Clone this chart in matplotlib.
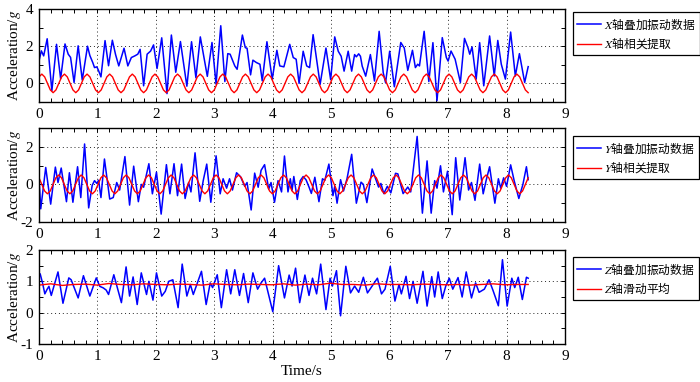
import numpy as np
import matplotlib.pyplot as plt
from matplotlib.ticker import MultipleLocator

plt.rcParams['font.family'] = ['Liberation Serif', 'Noto Sans CJK SC']
plt.rcParams['mathtext.fontset'] = 'stix'
plt.rcParams['axes.unicode_minus'] = False

# X axis: superimposed vibration data (time s, acceleration g)
x_blue = [(0.00, 1.21), (0.04, 1.75), (0.08, 1.48), (0.14, 2.40), (0.22, -0.40), (0.30, 2.10),
          (0.37, 0.25), (0.445, 2.12), (0.50, 1.57), (0.54, 1.40), (0.60, 0.05), (0.67, 2.02),
          (0.74, 0.18), (0.83, 2.00), (0.87, 1.50), (0.92, 1.12), (0.95, 0.85), (0.99, 0.89),
          (1.02, 0.68), (1.06, 0.35), (1.13, 2.30), (1.19, 0.95), (1.255, 2.32), (1.31, 1.55),
          (1.365, 0.94), (1.455, 1.89), (1.52, 0.94), (1.58, 1.39), (1.64, 1.48), (1.69, 1.57),
          (1.73, 1.83), (1.79, -0.13), (1.85, 1.57), (1.91, 1.74), (1.96, 2.07), (2.02, 0.80),
          (2.10, 2.45), (2.19, -0.55), (2.265, 2.60), (2.34, 0.60), (2.42, 2.25), (2.53, -0.15),
          (2.61, 2.24), (2.685, 0.30), (2.76, 2.50), (2.88, 0.38), (2.96, 2.20), (3.03, -0.04),
          (3.11, 3.10), (3.18, 0.10), (3.23, 1.60), (3.27, 1.57), (3.35, 0.94), (3.39, 0.76),
          (3.48, 2.60), (3.53, 1.92), (3.56, 1.89), (3.62, 0.46), (3.66, 1.25), (3.72, 1.12),
          (3.78, 1.03), (3.82, 0.14), (3.90, 2.24), (3.99, 0.23), (4.07, 1.78), (4.12, 0.94),
          (4.19, 0.89), (4.29, 2.10), (4.35, 1.39), (4.40, 1.30), (4.45, 0.00), (4.52, 1.73),
          (4.58, 0.94), (4.63, 0.85), (4.69, 2.62), (4.81, -0.05), (4.91, 1.90), (4.99, 0.20),
          (5.06, 2.50), (5.12, 1.73), (5.17, 1.46), (5.22, 0.66), (5.29, 1.73), (5.35, 0.66),
          (5.40, 1.55), (5.43, 1.43), (5.47, 1.59), (5.50, 1.46), (5.53, 0.93), (5.59, 0.39),
          (5.67, 1.55), (5.74, 0.13), (5.82, 2.80), (5.89, 0.57), (5.93, 0.04), (6.00, 1.73),
          (6.08, -0.18), (6.19, 2.20), (6.25, 1.90), (6.31, 0.70), (6.39, 1.78), (6.44, 0.85),
          (6.48, 1.03), (6.51, 0.94), (6.59, 2.80), (6.67, 0.10), (6.74, 2.19), (6.81, -0.93),
          (6.90, 2.46), (6.97, 1.39), (7.00, 1.20), (7.05, 1.74), (7.12, 1.30), (7.21, 0.05),
          (7.28, 2.42), (7.34, 1.92), (7.37, 1.57), (7.41, 1.96), (7.48, 0.23), (7.54, 2.19),
          (7.61, -0.13), (7.71, 2.55), (7.79, 0.40), (7.85, 2.31), (7.91, 1.03), (7.98, 0.23),
          (8.07, 2.76), (8.15, 0.40), (8.22, 1.60), (8.31, 0.05), (8.37, 0.90)]

# X axis correlation extraction, equally spaced samples over 0..8.37 s
red_x = [0.35, 0.50, 0.35, 0.00, -0.35, -0.50, -0.35, 0.00,
         0.35, 0.50, 0.35, 0.00, -0.35, -0.50, -0.35, 0.00,
         0.35, 0.50, 0.35, 0.00, -0.35, -0.50, -0.35, 0.00,
         0.35, 0.50, 0.35, 0.00, -0.35, -0.50, -0.35, 0.00,
         0.35, 0.50, 0.35, 0.00, -0.35, -0.50, -0.35, 0.00,
         0.35, 0.50, 0.35, 0.00, -0.35, -0.50, -0.35, 0.00,
         0.35, 0.50, 0.35, 0.00, -0.35, -0.50, -0.35, 0.00,
         0.35, 0.50, 0.35, 0.00, -0.35, -0.50, -0.35, 0.00,
         0.35, 0.50, 0.35, 0.00, -0.35, -0.50, -0.35, 0.00,
         0.35, 0.50, 0.35, 0.00, -0.35, -0.50, -0.35, 0.00,
         0.35, 0.50, 0.35, 0.00, -0.35, -0.50, -0.35, 0.00,
         0.35, 0.50, 0.35, 0.00, -0.35, -0.50, -0.35, 0.00,
         0.35, 0.50, 0.35, 0.00, -0.35, -0.50, -0.35, 0.00,
         0.35, 0.50, 0.35, 0.00, -0.35, -0.50, -0.35, 0.00,
         0.35, 0.50, 0.35, 0.00, -0.35, -0.50, -0.35, 0.00,
         0.35, 0.50, 0.35, 0.00, -0.35, -0.50, -0.35, 0.00,
         0.35, 0.50, 0.35, 0.00, -0.35, -0.50, -0.35, 0.00,
         0.35, 0.50, 0.35, 0.00, -0.35, -0.50, -0.35, 0.00,
         0.35, 0.50, 0.35, 0.00, -0.35, -0.50, -0.35, 0.00,
         0.35, 0.50, 0.35, 0.00, -0.35, -0.50, -0.35, 0.00,
         0.35, 0.50, 0.35, 0.00, -0.35, -0.50, -0.35, 0.00,
         0.35, 0.50, 0.35, 0.00, -0.35, -0.50]

# Y axis: superimposed vibration data
y_blue = [(0.00, 0.35), (0.03, -1.30), (0.115, 0.90), (0.20, -1.05), (0.28, 0.92), (0.325, 0.10),
          (0.38, 0.87), (0.47, -0.92), (0.52, 0.62), (0.58, -0.95), (0.66, 0.94), (0.715, -0.70),
          (0.78, 2.15), (0.85, -1.25), (0.91, -0.05), (0.95, 0.20), (0.99, 0.05), (1.02, 0.22),
          (1.06, -0.70), (1.12, 1.35), (1.21, -0.78), (1.27, -0.70), (1.33, 0.10), (1.38, -0.30),
          (1.47, 1.48), (1.55, -1.10), (1.62, 0.97), (1.70, -0.92), (1.75, 0.00), (1.79, -0.15),
          (1.88, 1.10), (1.94, -0.50), (2.01, 0.65), (2.09, -1.58), (2.18, 1.05), (2.24, -0.50),
          (2.31, 1.10), (2.37, -0.60), (2.44, 1.08), (2.50, -0.75), (2.56, 0.10), (2.60, -0.40),
          (2.67, 1.68), (2.75, -0.90), (2.81, 0.20), (2.87, 1.08), (2.94, -0.95), (3.03, 1.52),
          (3.10, -0.50), (3.15, 0.30), (3.21, -0.20), (3.26, 0.30), (3.31, -0.30), (3.38, 0.62),
          (3.45, 0.40), (3.52, -0.10), (3.56, 0.10), (3.63, -1.36), (3.69, 0.60), (3.75, -0.15),
          (3.80, 0.75), (3.86, 1.05), (3.93, -0.25), (3.97, 0.10), (4.03, -0.95), (4.09, 0.20),
          (4.15, -0.40), (4.20, 1.51), (4.26, -0.40), (4.30, 0.30), (4.33, -0.31), (4.36, 0.42),
          (4.42, -0.80), (4.47, 0.20), (4.52, 0.42), (4.57, 0.24), (4.62, -0.14), (4.66, -0.48),
          (4.72, 0.38), (4.79, -0.92), (4.85, 0.30), (4.89, 0.21), (4.96, 1.08), (5.03, -0.60),
          (5.06, -0.10), (5.10, -1.00), (5.16, 0.25), (5.21, -0.35), (5.27, 0.30), (5.35, 1.60),
          (5.43, -1.00), (5.51, 0.12), (5.55, 0.00), (5.61, -0.97), (5.70, 0.82), (5.77, 0.21),
          (5.81, -0.14), (5.85, 0.05), (5.90, -0.49), (5.96, -0.10), (6.02, -0.45), (6.10, 0.59),
          (6.14, 0.56), (6.23, -0.49), (6.31, -0.14), (6.36, -0.40), (6.47, 2.55), (6.56, -1.53),
          (6.64, 1.25), (6.71, -1.53), (6.77, 0.20), (6.81, -0.20), (6.87, 0.99), (6.92, -0.40),
          (6.99, 0.70), (7.07, -1.61), (7.13, 1.42), (7.20, -0.83), (7.29, 1.42), (7.35, -0.30),
          (7.40, 0.10), (7.46, -0.85), (7.54, 1.08), (7.60, -0.50), (7.65, 0.20), (7.71, 0.94),
          (7.80, -1.00), (7.86, 0.30), (7.90, -0.20), (7.95, 0.35), (8.00, -0.10), (8.07, 1.04),
          (8.13, 0.20), (8.21, -0.75), (8.28, 0.00), (8.34, 0.94), (8.37, 0.25)]

# Y axis correlation extraction, equally spaced samples over 0..8.37 s
red_y = [0.35, 0.00, -0.35, -0.50, -0.35, 0.00, 0.35, 0.50,
         0.35, 0.00, -0.35, -0.50, -0.35, 0.00, 0.35, 0.50,
         0.35, 0.00, -0.35, -0.50, -0.35, 0.00, 0.35, 0.50,
         0.35, 0.00, -0.35, -0.50, -0.35, 0.00, 0.35, 0.50,
         0.35, 0.00, -0.35, -0.50, -0.35, 0.00, 0.35, 0.50,
         0.35, 0.00, -0.35, -0.50, -0.35, 0.00, 0.35, 0.50,
         0.35, 0.00, -0.35, -0.50, -0.35, 0.00, 0.35, 0.50,
         0.35, 0.00, -0.35, -0.50, -0.35, 0.00, 0.35, 0.50,
         0.35, 0.00, -0.35, -0.50, -0.35, 0.00, 0.35, 0.50,
         0.35, 0.00, -0.35, -0.50, -0.35, 0.00, 0.35, 0.50,
         0.35, 0.00, -0.35, -0.50, -0.35, 0.00, 0.35, 0.50,
         0.35, 0.00, -0.35, -0.50, -0.35, 0.00, 0.35, 0.50,
         0.35, 0.00, -0.35, -0.50, -0.35, 0.00, 0.35, 0.50,
         0.35, 0.00, -0.35, -0.50, -0.35, 0.00, 0.35, 0.50,
         0.35, 0.00, -0.35, -0.50, -0.35, 0.00, 0.35, 0.50,
         0.35, 0.00, -0.35, -0.50, -0.35, 0.00, 0.35, 0.50,
         0.35, 0.00, -0.35, -0.50, -0.35, 0.00, 0.35, 0.50,
         0.35, 0.00, -0.35, -0.50, -0.35, 0.00, 0.35, 0.50,
         0.35, 0.00, -0.35, -0.50, -0.35, 0.00, 0.35, 0.50,
         0.35, 0.00, -0.35, -0.50, -0.35, 0.00, 0.35, 0.50,
         0.35, 0.00, -0.35, -0.50, -0.35, 0.00, 0.35, 0.50,
         0.35, 0.00, -0.35, -0.50, -0.35, 0.00, 0.35]

# Z axis: superimposed vibration data
z_blue = [(0.00, 1.21), (0.02, 1.24), (0.06, 0.95), (0.10, 0.60), (0.14, 0.75), (0.17, 0.84),
          (0.21, 0.55), (0.325, 1.30), (0.41, 0.30), (0.51, 1.11), (0.55, 1.05), (0.67, 0.47),
          (0.76, 1.18), (0.87, 0.53), (0.98, 1.11), (1.04, 0.84), (1.10, 0.79), (1.15, 0.72),
          (1.19, 0.58), (1.28, 1.21), (1.41, 0.32), (1.49, 1.46), (1.55, 0.53), (1.61, 1.14),
          (1.68, 0.26), (1.75, 1.27), (1.84, 0.58), (1.88, 1.00), (1.95, 0.40), (2.01, 1.27),
          (2.10, 0.53), (2.16, 0.68), (2.22, 1.00), (2.29, 1.05), (2.38, 0.16), (2.45, 1.55),
          (2.53, 0.53), (2.59, 0.90), (2.64, 0.58), (2.78, 1.32), (2.86, 0.26), (2.93, 0.95),
          (2.97, 0.80), (3.05, 1.21), (3.12, 0.16), (3.21, 1.37), (3.28, 0.60), (3.35, 1.37),
          (3.43, 0.55), (3.50, 1.25), (3.58, 0.32), (3.66, 1.27), (3.74, 0.75), (3.80, 0.95),
          (3.86, 1.10), (4.00, 0.03), (4.10, 1.50), (4.20, 0.47), (4.28, 1.20), (4.33, 0.85),
          (4.39, 1.42), (4.46, 0.32), (4.55, 1.20), (4.62, 0.55), (4.68, 1.10), (4.75, 0.60),
          (4.82, 1.55), (4.91, 0.10), (4.98, 1.10), (5.02, 0.85), (5.09, 1.34), (5.16, -0.10),
          (5.25, 1.48), (5.33, 0.63), (5.40, 0.85), (5.47, 0.65), (5.55, 1.13), (5.62, 0.63),
          (5.70, 0.85), (5.79, 1.10), (5.86, 0.60), (5.92, 0.75), (6.01, 1.48), (6.09, 0.37),
          (6.16, 0.90), (6.20, 0.60), (6.28, 1.16), (6.34, 0.45), (6.40, 1.00), (6.47, 0.30),
          (6.57, 1.32), (6.64, 0.21), (6.72, 1.15), (6.77, 0.50), (6.83, 1.30), (6.90, 0.45),
          (6.96, 0.85), (7.02, 1.10), (7.08, 0.75), (7.17, 1.12), (7.24, 0.50), (7.31, 1.30),
          (7.40, 0.47), (7.47, 0.95), (7.53, 0.65), (7.62, 0.75), (7.70, 1.05), (7.77, 0.70),
          (7.86, 0.22), (7.93, 1.69), (8.01, 0.21), (8.09, 1.10), (8.14, 0.80), (8.20, 1.13),
          (8.27, 0.42), (8.34, 1.13), (8.37, 1.10)]

# Z axis moving average, equally spaced samples over 0..8.37 s
red_z = [0.88, 0.92, 0.87, 0.90, 0.91, 0.88, 0.93, 0.90, 0.89, 0.92,
         0.90, 0.89, 0.91, 0.90, 0.88, 0.92, 0.90, 0.89, 0.91, 0.90,
         0.89, 0.92, 0.88, 0.91, 0.89, 0.94, 0.90, 0.90, 0.88, 0.92,
         0.90, 0.90, 0.89, 0.91, 0.90, 0.89, 0.90, 0.88, 0.90, 0.92,
         0.89, 0.90, 0.90]
t_end = 8.37

labels = [('$X$轴叠加振动数据', '$X$轴相关提取'),
          ('$Y$轴叠加振动数据', '$Y$轴相关提取'),
          ('$Z$轴叠加振动数据', '$Z$轴滑动平均')]
ylims = [(-1, 4), (-2, 3), (-1, 2)]
ymajor = [2, 2, 1]
yminor = [1, 1, 0.5]

W, H = 700, 382
# (top, bottom) of each axes in pixels
rows = [(9, 102), (128, 222), (250, 344)]
legend_tops = [12, 136, 257]

fig = plt.figure(figsize=(W / 100, H / 100), dpi=100)

series = [(x_blue, red_x), (y_blue, red_y), (z_blue, red_z)]
for i, (blue, red) in enumerate(series):
    top, bot = rows[i]
    ax = fig.add_axes([39 / W, 1 - bot / H, (565 - 39) / W, (bot - top) / H])
    bt, bv = np.array(blue).T
    rt = np.linspace(0, t_end, len(red))
    ax.plot(bt, bv, color='#0000ff', lw=1.1, label=labels[i][0])
    ax.plot(rt, red, color='#ff0000', lw=1.0, label=labels[i][1])

    ax.set_xlim(0, 9)
    ax.set_ylim(*ylims[i])
    ax.xaxis.set_major_locator(MultipleLocator(1))
    ax.xaxis.set_minor_locator(MultipleLocator(0.2))
    ax.yaxis.set_major_locator(MultipleLocator(ymajor[i]))
    ax.yaxis.set_minor_locator(MultipleLocator(yminor[i]))
    ax.tick_params(which='both', direction='in', top=True, right=True,
                   length=3, width=0.7, labelsize=11, pad=4)
    ax.grid(which='major', linestyle=(0, (1, 3)), color='0.15', linewidth=0.7)
    for sp in ax.spines.values():
        sp.set_linewidth(1.0)
    ax.set_ylabel('Acceleration/$g$', fontsize=11)
    ax.yaxis.set_label_coords(-0.031, 0.5)
    if i == 2:
        ax.set_xlabel('Time/s', fontsize=11, labelpad=2)

    leg = ax.legend(loc='upper left', bbox_to_anchor=(573 / W, 1 - legend_tops[i] / H),
                    bbox_transform=fig.transFigure, borderaxespad=0,
                    prop={'family': 'Noto Sans CJK SC', 'size': 8.5},
                    fancybox=False, framealpha=1, edgecolor='k',
                    handlelength=2.0, handletextpad=0.3, labelspacing=0.35,
                    borderpad=0.35)
    leg.get_frame().set_linewidth(0.9)

fig.savefig('out.png', dpi=100)
